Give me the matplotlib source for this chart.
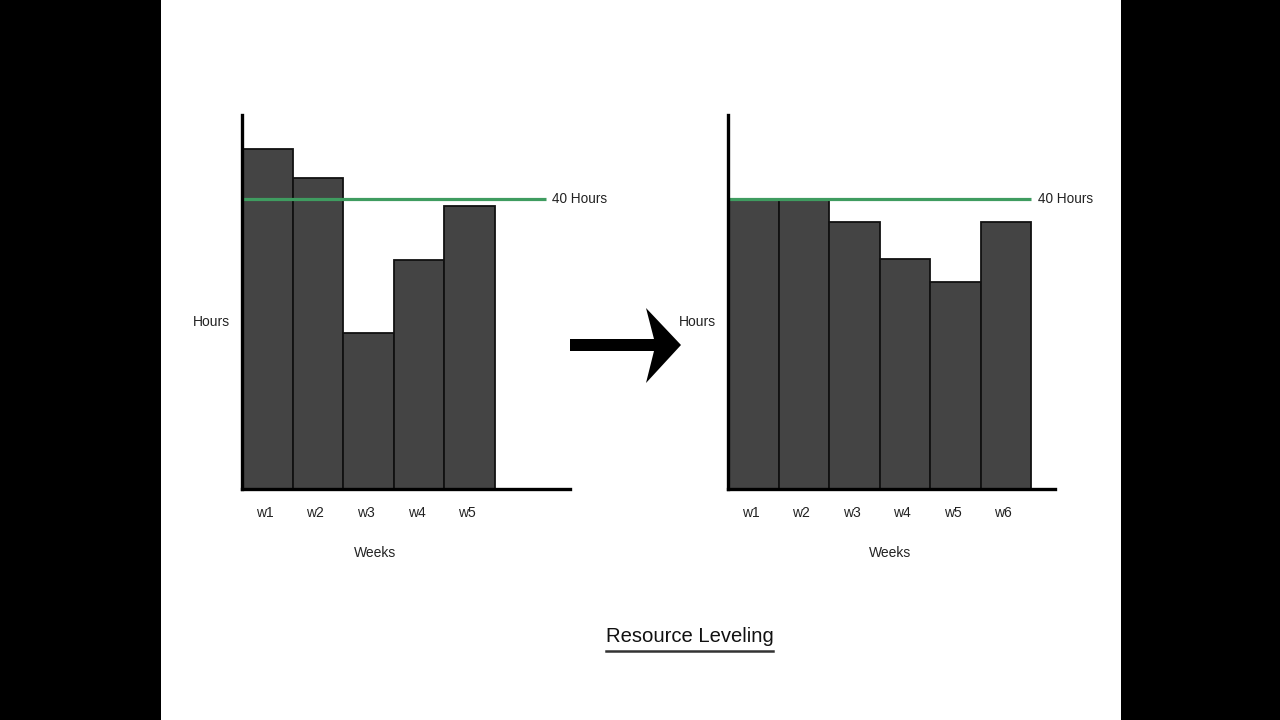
import matplotlib.pyplot as plt
from matplotlib.patches import Polygon, Rectangle
from matplotlib.lines import Line2D

# data
before_weeks = ["w1", "w2", "w3", "w4", "w5"]
before_hours = [46.9, 42.9, 21.5, 31.6, 39.0]
after_weeks = ["w1", "w2", "w3", "w4", "w5", "w6"]
after_hours = [40.0, 40.0, 36.8, 31.7, 28.6, 36.8]
limit_hours = 40
limit_label = "40 Hours"
title = "Resource Leveling"

W, H = 1280, 720
plt.rcParams['font.family'] = ['Liberation Sans', 'DejaVu Sans']

fig = plt.figure(figsize=(12.8, 7.2), dpi=100)
fig.patch.set_facecolor('black')
# white slide area
fig.patches.append(Rectangle((161 / W, 0), 960 / W, 1, transform=fig.transFigure,
                             facecolor='white', edgecolor='none', zorder=-5))


def px_axes(x0, x1, y_top, y_bot):
    return fig.add_axes([x0 / W, (H - y_bot) / H, (x1 - x0) / W, (y_bot - y_top) / H])


def draw_chart(ax, weeks, hours, xmax, weeks_x):
    ax.set_facecolor('none')
    xs = list(range(len(weeks)))
    ax.bar(xs, hours, width=1.0, align='edge', color='#444444',
           edgecolor='#111111', linewidth=1.3, zorder=2)
    # 40 hour limit line
    ax.plot([0, 6.0], [limit_hours, limit_hours], color='#3f9c60', lw=2.3,
            solid_capstyle='butt', zorder=3, clip_on=False)
    ax.text(6.13, limit_hours, limit_label, fontsize=9.8, va='center', ha='left',
            color='#222222', clip_on=False)
    ax.set_xlim(0, xmax)
    ax.set_ylim(0, 51.6)
    ax.set_xticks([x + 0.45 for x in xs])
    ax.set_xticklabels(weeks, fontsize=10, color='#222222')
    ax.set_yticks([])
    ax.tick_params(axis='x', length=0, pad=12)
    for side in ['top', 'right']:
        ax.spines[side].set_visible(False)
    for side in ['left', 'bottom']:
        ax.spines[side].set_linewidth(2.4)
        ax.spines[side].set_color('black')
        ax.spines[side].set_zorder(4)
    ax.set_xlabel("Weeks", fontsize=10, color='#222222')
    ax.xaxis.set_label_coords(weeks_x, -0.153)
    ax.set_ylabel("Hours", fontsize=10, rotation=0, color='#222222', va='center', ha='center')
    ax.yaxis.set_label_coords(-0.092, 0.447)


ax1 = px_axes(242, 570, 115, 489)
draw_chart(ax1, before_weeks, before_hours, 328 / 50.6, 0.405)

ax2 = px_axes(728, 1055, 115, 489)
draw_chart(ax2, after_weeks, after_hours, 327 / 50.5, 0.495)

# big arrow between the charts
arrow_px = [(570, 339), (654, 339), (646, 308), (681, 345), (646, 383), (654, 351), (570, 351)]
fig.patches.append(Polygon([(x / W, (H - y) / H) for x, y in arrow_px], closed=True,
                           transform=fig.transFigure, facecolor='black', edgecolor='none'))

# underlined title
fig.text(689.5 / W, (H - 637) / H, title, fontsize=14.6, ha='center', va='center', color='#111111')
fig.lines.append(Line2D([606 / W, 773 / W], [(H - 651) / H] * 2, transform=fig.transFigure,
                        color='#333333', lw=1.8))

fig.savefig("out.png", dpi=100, facecolor=fig.get_facecolor())
